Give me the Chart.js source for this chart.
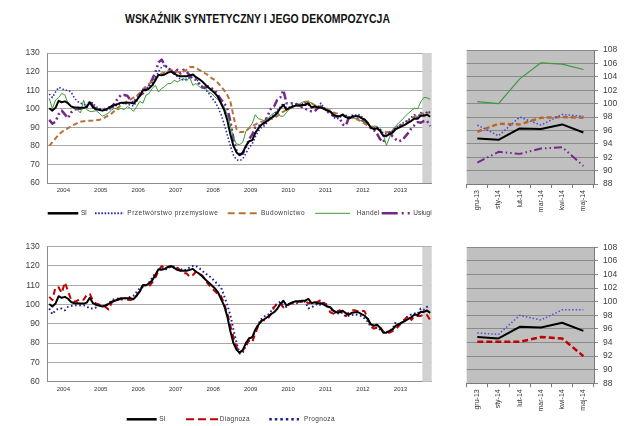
<!DOCTYPE html>
<html><head><meta charset="utf-8">
<script src="https://cdn.jsdelivr.net/npm/chart.js@4.4.1/dist/chart.umd.min.js"></script>
<style>
html,body{margin:0;padding:0;background:#fff;width:640px;height:426px;overflow:hidden;position:relative;}
#title{position:absolute;left:125px;top:11.6px;font:bold 13px "Liberation Sans",Arial,sans-serif;line-height:13px;color:#111;white-space:nowrap;transform-origin:0 0;}
canvas{position:absolute;}
</style></head><body>
<div id="title">WSKAŹNIK SYNTETYCZNY I JEGO DEKOMPOZYCJA</div>
<canvas id="c1" width="445" height="185" style="left:0;top:40px"></canvas>
<canvas id="c2" width="445" height="196" style="left:0;top:230px"></canvas>
<canvas id="c3" width="195" height="186" style="left:445px;top:40px"></canvas>
<canvas id="c4" width="195" height="196" style="left:445px;top:230px"></canvas>
<script>
// Monthly data, Mar 2004 .. May 2014
const years = ['2004','2005','2006','2007','2008','2009','2010','2011','2012','2013'];
const recentLabels = ['gru-13','sty-14','lut-14','mar-14','kwi-14','maj-14'];

const SI = [100.3, 99, 100.5, 104.3, 103.5, 104, 103, 101.3, 100.7, 100.7,
 100.5, 100.5, 101, 103.5, 100.7, 99.8, 99.5, 99, 99.5, 100.3,
 101.5, 102, 102.6, 103.3, 103.3, 103.3, 103.3, 102.8, 104.7, 106.8,
 110, 110, 111, 112.6, 115.4, 118.3, 118, 118.5,
 119.5, 120,
 119, 118, 117.5, 117.5, 117.5, 118, 118.5, 117, 116, 114.7,
 113, 111.5, 110, 108.5, 106.5, 103, 99.5, 94, 86.3, 80,
 76.5, 75, 76.5, 80, 82.5, 83, 87, 89.5, 91.5, 92.5,
 93.7, 95, 96, 97.7, 100.3, 102, 99.5, 100.5, 101.2, 101.7,
 101.7, 102, 102, 103, 100.7, 101.2, 100.7, 100.7, 100, 99,
 98.6, 96.8, 96, 96, 96.8, 95.5,
 94.8, 95.8, 96, 96, 95, 94.3, 92.5,
 89.8, 89, 89.5, 88, 85.4, 85.4, 86.3, 87.2, 89, 89.8,
 90.7, 91.5, 92.5, 93.5, 94.8, 94.6, 96.3, 96.2, 96.9, 95.7];

const przetworstwo = [108, 106, 109, 111.5, 111, 110, 110, 109, 106, 104,
 103, 102.5, 101.5, 104, 103, 101, 100.3, 99.5, 99, 99.5,
 100.5, 101.5, 102, 103, 103, 102.5, 102, 101.5, 104, 108,
 110, 111, 112, 114, 117, 120, 122.5, 123.5,
 122, 121,
 119, 117.5, 116, 115.5, 116, 117, 119, 116.5, 114, 112,
 110.5, 108.5, 106, 104, 101, 97, 92, 86, 80, 75,
 72.5, 72, 73, 76, 79, 81, 85, 88, 90, 91,
 93, 95.5, 97, 99, 101, 103, 100.5, 101, 102, 102.5,
 102, 102.5, 103, 102, 101, 101.5, 101, 103, 100.5, 99.5,
 98, 95.5, 94.5, 95, 97, 96.5,
 95.5, 96.5, 96.5, 97, 96, 94, 92,
 90, 89.5, 90, 89, 87, 86.5, 87, 88, 90, 91,
 92, 93, 94, 95.5, 96.8, 95.2, 98.0, 96.8, 98.4, 98.1];

const budownictwo = [80, 82, 84, 86, 87.5, 88.5, 89.5, 90.5, 91.5, 92.3,
 93, 93.3, 93.5, 93.5, 93.7, 94, 94, 94.5, 95.5, 96.5,
 97.5, 99, 100.5, 102, 103, 104, 105, 106, 107, 108.5,
 110.5, 112, 113.5, 115, 116.5, 118, 119, 119.5,
 120.5, 121,
 120.5, 120, 119.5, 120, 121, 122.5, 122.5, 122, 121, 120,
 119, 118, 116.5, 115.5, 114, 112, 110, 107.5, 104, 96,
 89, 87.5, 87.5, 88, 89.5, 90.7, 91.5, 92.5, 93, 93.3,
 94, 94.5, 95, 96, 97.5, 98.5, 99.5, 100.3, 101, 101.5,
 102, 102.5, 103.5, 104, 103, 102, 101.5, 101, 100.5, 100,
 99, 98, 97.5, 97, 96.5, 96,
 95, 95, 94.5, 94, 93, 92, 91,
 90.5, 90, 89.5, 88.5, 88, 87.5, 87, 88, 89.5, 90.7,
 91.5, 92.5, 93.5, 94.5, 95.8, 97.0, 96.9, 97.9, 98.0, 97.9];

const handel = [105.6, 100, 104.7, 106, 108.3, 107.4, 103, 101, 100.3, 99.5,
 97.7, 104.7, 99.5, 98.6, 98.6, 99, 97.7, 96, 96.8, 97.7,
 99.5, 100.3, 99.5, 100.3, 99.5, 101.2, 100.3, 98.6, 101.2, 104,
 103, 107.4, 108.3, 111, 112.6, 109, 111, 112,
 113.6, 113.6,
 115.4, 114.5, 115.4, 116.3, 115, 117, 112.6, 113.6, 112, 111,
 111, 109, 108.3, 106.5, 105, 103.5, 101, 97, 91, 84,
 81, 80.7, 82, 88, 89.8, 92, 96.8, 94.6, 94.2, 93.3,
 94.5, 96.5, 97.7, 98.6, 96, 96, 98, 100, 101, 102,
 102.5, 103.5, 104, 104, 103, 102, 101.2, 101.5, 100.3, 99.5,
 98.6, 97.5, 96.3, 96, 96.3, 96.5,
 95.4, 95, 94.8, 94.2, 93.3, 93.3, 92.5,
 89.5, 90.7, 90.5, 88, 86, 80.2, 84.6, 89, 90.7, 92.5,
 94, 96, 97.5, 99, 100.3, 100.0, 103.7, 106.1, 105.9, 105.1];

const uslugi = [94, 92, 93, 97, 99, 97, 95, 98, 99.5, 100,
 100, 100.5, 101, 104, 101.5, 99.5, 99.5, 99.5, 100, 100.7,
 101, 103, 105.6, 107.4, 107.4, 107, 104.7, 103, 106.5, 107.4,
 108.3, 111, 112.6, 116, 119.7, 125, 126.5, 123.5,
 121.7, 121,
 119, 121, 119, 121, 120, 118, 116, 115.6, 113.3, 111.5,
 111.5, 112, 111, 110, 107.5, 105, 103, 100.5, 93.3, 84,
 77.5, 75.5, 75.8, 79.5, 83.5, 86, 90, 90.7, 91.3, 92.5,
 96.5, 100, 101.2, 104.7, 106, 110, 103, 103, 103, 102.6,
 102, 100.8, 100, 99.2, 98.6, 98.6, 100.3, 101.2, 100.3, 98.6,
 97.3, 96.2, 96, 95, 91.5, 91,
 95.5, 96, 95, 94.5, 94, 93, 91.5,
 89.5, 88.5, 86.5, 83.5, 82, 86.5, 87.5, 85, 83.5, 82.5,
 83, 85, 87, 89.5, 91.2, 92.8, 92.5, 93.3, 93.5, 90.7];

const diagnoza = [104, 102.3, 109, 109, 106, 111.5, 107, 102.5, 101.4, 102,
 103, 102.5, 105, 105.5, 102, 100.5, 100, 99.3, 98.8, 97.4,
 101, 102.3, 102.5, 103, 102.5, 102.5, 102.3, 102.8, 104.5, 107.5,
 110, 110, 109.5, 111.5, 114, 117.5, 120, 118.8,
 119.3, 119.7,
 120, 119, 117.9, 116.2, 116.2, 114.4, 115.3, 117, 116.2, 115,
 112.5, 110.5, 108.5, 107, 105.5, 104.5, 100.5, 95.5, 89, 83,
 78, 75.3, 76.2, 78.8, 81.4, 80.5, 85, 89.2, 91.8, 91.8,
 92.7, 95, 98.5, 100.5, 100.5, 98.5, 99.3, 100.3, 100.9, 101.2,
 101.4, 101.4, 101.9, 100.5, 101.4, 100.9, 101.5, 102.3, 101, 99,
 96, 95.3, 96.5, 97, 96.2, 94,
 96, 97, 97, 96.5, 96.8, 96.5, 93,
 89, 87.5, 88.3, 88.3, 86, 85, 85.5, 86.3, 87.3, 89,
 90.8, 92.5, 94.4, 92, 94.1, 94.1, 94.1, 94.8, 94.6, 92.0];

const prognoza = [97.9, 95, 97, 97.9, 97.9, 97, 98.8, 99.2, 99.7, 99.7,
 99.7, 99.7, 99, 97.9, 97.9, 98.5, 99.5, 99.5, 99.1, 100.5,
 102, 103, 103.1, 102.6, 103, 103.5, 104, 104.6, 106.5, 108.5,
 109.2, 110, 111.5, 114, 116.2, 117.2, 119.3, 117.9,
 118.8, 119.7,
 119.7, 119, 118.5, 117.6, 118.2, 119.3, 120, 120, 119, 117.5,
 116.2, 115, 113.8, 112, 110.5, 109, 104.5, 100, 94.5, 87,
 80, 74.6, 75.3, 78.5, 81.4, 83.1, 86, 90, 92.5, 94,
 94.4, 96.5, 99, 100.5, 101.4, 99.5, 98.8, 100.5, 100.5, 100.5,
 101.2, 101.9, 101.4, 98, 98.5, 99.5, 100.5, 99.7, 101.4, 99.7,
 98, 96.5, 94.8, 96, 95.6, 93.8,
 94.3, 94.6, 95, 94.4, 94, 92.8, 91.2,
 88.5, 87.5, 88, 87, 85.9, 85.7, 86.5, 87.5, 91, 89.5,
 91, 92.5, 93.8, 95, 95.4, 95.2, 98.0, 97.3, 98.8, 98.8];

const leftYTicks = {min:60, max:130, step:10};
const rightYTicks = {min:88, max:108, step:2};

// ---------- styles ----------
const FONT = '"Liberation Sans", Arial, sans-serif';
Chart.defaults.font.family = FONT;
const ST = {
  si:{color:'#000000', width:2, dash:[]},
  prz:{color:'#2b2bb0', width:1.6, dash:[1.5,2]},
  bud:{color:'#bb7038', width:2, dash:[5,3]},
  han:{color:'#3a9a3a', width:1, dash:[]},
  usl:{color:'#74288c', width:2.5, dash:[8,3,2,3,2,3]},
  dia:{color:'#c00000', width:2, dash:[6,4]},
  pro:{color:'#1e1e96', width:2, dash:[1.6,2.6]}
};

function ds(label, arr, st, asXY, overrides) {
  const o = {
    label,
    data: asXY ? arr.map((v,i)=>({x:i, y:v})) : arr,
    borderColor: st.color, borderWidth: st.width, borderDash: st.dash,
    pointRadius:0, fill:false, tension:0, borderCapStyle:'butt', borderJoinStyle:'round'
  };
  return Object.assign(o, overrides||{});
}

function legendPlugin(items, y) {
  return {
    id:'customLegend',
    afterDraw(chart){
      const ctx = chart.ctx;
      items.forEach(it=>{
        ctx.save();
        ctx.beginPath();
        ctx.strokeStyle = it.st.color; ctx.lineWidth = it.lw || it.st.width;
        ctx.setLineDash(it.dash || it.st.dash); ctx.lineCap='butt';
        ctx.moveTo(it.x1, y); ctx.lineTo(it.x2, y); ctx.stroke();
        ctx.setLineDash([]);
        ctx.font = '6.5px ' + FONT;
        ctx.fillStyle = '#3a3a3a'; ctx.textBaseline='middle'; ctx.textAlign='left';
        if ('letterSpacing' in ctx) ctx.letterSpacing = '0px';
        const w = ctx.measureText(it.text).width;
        const n = it.text.length;
        if ('letterSpacing' in ctx && n > 1) ctx.letterSpacing = ((it.tw - w)/n).toFixed(2) + 'px';
        ctx.fillText(it.text, it.tx, y);
        ctx.restore();
      });
    }
  };
}

function shadePlugin(from) {
  return {
    id:'shade',
    beforeDatasetsDraw(chart){
      const {ctx, chartArea:a, scales:{x}} = chart;
      const x0 = x.getPixelForValue(from);
      ctx.save(); ctx.fillStyle = '#d2d2d2';
      ctx.fillRect(x0, a.top, a.right - x0, a.bottom - a.top);
      ctx.restore();
    }
  };
}

const bgPlugin = {
  id:'bg',
  beforeDraw(chart){
    const {ctx, chartArea:a} = chart;
    ctx.save(); ctx.fillStyle = '#c0c0c0';
    ctx.fillRect(a.left, a.top, a.right - a.left, a.bottom - a.top);
    ctx.restore();
  }
};

function leftChart(id, datasets, cfg, legend) {
  const n = SI.length;
  return new Chart(document.getElementById(id), {
    type:'line',
    data:{datasets},
    options:{
      responsive:false, animation:false, events:[],
      layout:{padding:{left:0, right:cfg.padRight, top:cfg.padTop, bottom:0}},
      plugins:{legend:{display:false}, tooltip:{enabled:false}},
      scales:{
        x:{type:'linear', min:-0.5, max:n-0.5,
          afterFit:s=>{s.height = cfg.xh;},
          afterBuildTicks:s=>{s.ticks = years.map((y,k)=>({value:4.5+12*k}));},
          grid:{display:false, drawTicks:false},
          border:{display:true, color:'#8c8c8c', width:1},
          ticks:{autoSkip:false, maxRotation:0, minRotation:0, padding:4, color:'#333',
            font:{size:6}, callback:(v,i)=>years[i]}},
        y:{min:leftYTicks.min, max:leftYTicks.max,
          afterFit:s=>{s.width = 47.7;},
          ticks:{stepSize:leftYTicks.step, padding:8, color:'#404040', font:{size:8.5}},
          grid:{color:'#a8a8a8', drawTicks:false, lineWidth:1},
          border:{display:true, color:'#8c8c8c'}}
      }
    },
    plugins:[shadePlugin(n-3.5), legendPlugin(legend, cfg.legendY)]
  });
}

function rightChart(id, datasets, cfg) {
  return new Chart(document.getElementById(id), {
    type:'line',
    data:{labels:recentLabels, datasets},
    options:{
      responsive:false, animation:false, events:[],
      layout:{padding:{left:21.7, right:0, top:cfg.padTop, bottom:0}},
      plugins:{legend:{display:false}, tooltip:{enabled:false}},
      scales:{
        x:{type:'category', offset:true,
          afterFit:s=>{s.height = cfg.xh;},
          grid:{offset:true, drawOnChartArea:false, drawTicks:true, tickLength:4, color:'#7a7a7a'},
          border:{display:true, color:'#7a7a7a'},
          ticks:{autoSkip:false, minRotation:90, maxRotation:90, padding:2, color:'#333', font:{size:7}}},
        y:{position:'right', min:rightYTicks.min, max:rightYTicks.max,
          afterFit:s=>{s.width = 46;},
          ticks:{stepSize:rightYTicks.step, padding:5, color:'#404040', font:{size:8.5}},
          grid:{color:'#8a8a8a', tickLength:4, lineWidth:1},
          border:{display:true, color:'#7a7a7a'}}
      }
    },
    plugins:[bgPlugin]
  });
}

// ---------- top-left ----------
leftChart('c1', [
  ds('SI', SI, ST.si, true),
  ds('Przetwórstwo przemysłowe', przetworstwo, ST.prz, true),
  ds('Budownictwo', budownictwo, ST.bud, true),
  ds('Handel', handel, ST.han, true),
  ds('Usługi', uslugi, ST.usl, true)
], {padRight:13.3, padTop:11, xh:42, legendY:173.3}, [
  {st:ST.si, lw:2.5, x1:47.7, x2:78.3, text:'SI', tx:81, tw:5.5},
  {st:ST.prz, lw:2, dash:[1.6,1.6], x1:95, x2:124, text:'Przetwórstwo przemysłowe', tx:127.3, tw:91},
  {st:ST.bud, dash:[7,4], x1:227.7, x2:256.7, text:'Budownictwo', tx:261, tw:44},
  {st:ST.han, x1:315, x2:350, text:'Handel', tx:356.7, tw:23.3},
  {st:ST.usl, dash:[16,4,2,4,2,4], x1:381.7, x2:410, text:'Usługi', tx:413.3, tw:18.5}
]);

// ---------- bottom-left ----------
leftChart('c2', [
  ds('SI', SI, ST.si, true),
  ds('Diagnoza', diagnoza, ST.dia, true),
  ds('Prognoza', prognoza, ST.pro, true)
], {padRight:13.3, padTop:16.7, xh:44.3, legendY:189.3}, [
  {st:ST.si, lw:2.5, x1:126.7, x2:156.7, text:'SI', tx:159.3, tw:5.7},
  {st:ST.dia, dash:[8,4], x1:186, x2:218.3, text:'Diagnoza', tx:219.8, tw:30},
  {st:ST.pro, lw:2.5, dash:[2.5,3], x1:269.3, x2:299, text:'Prognoza', tx:304, tw:31}
]);

// ---------- top-right ----------
rightChart('c3', [
  ds('SI', SI.slice(-6), ST.si, false),
  ds('Przetwórstwo przemysłowe', przetworstwo.slice(-6), {color:'#4646d8', width:1.5, dash:[1.5,2]}, false),
  ds('Budownictwo', budownictwo.slice(-6), {color:'#b8662c', width:2.5, dash:[5,3]}, false),
  ds('Handel', handel.slice(-6), {color:'#3a9a3a', width:1.2, dash:[]}, false),
  ds('Usługi', uslugi.slice(-6), {color:'#74288c', width:2, dash:[8,3,1.5,3,1.5,3]}, false)
], {padTop:9.3, xh:42});

// ---------- bottom-right ----------
rightChart('c4', [
  ds('SI', SI.slice(-6), ST.si, false),
  ds('Diagnoza', diagnoza.slice(-6), {color:'#c00000', width:2.5, dash:[6,3]}, false),
  ds('Prognoza', prognoza.slice(-6), {color:'#5050dc', width:1.5, dash:[1.5,2]}, false)
], {padTop:17.3, xh:42.7});

// title width
const t = document.getElementById('title');
const tw = t.getBoundingClientRect().width;
t.style.transform = 'scaleX(' + (265/tw).toFixed(4) + ')';
</script>
</body></html>
